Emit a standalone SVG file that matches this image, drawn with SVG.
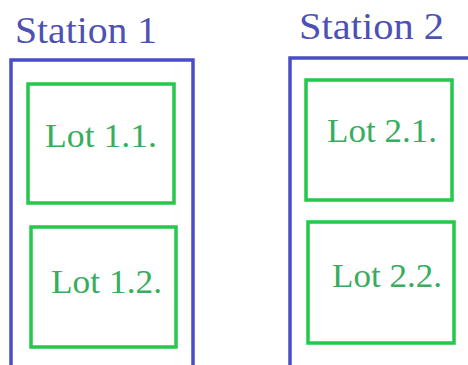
<svg xmlns="http://www.w3.org/2000/svg" width="468" height="365" viewBox="0 0 468 365">
<style>
.station{fill:none;stroke:#4a4ec6;stroke-width:3.5}
.lot{fill:none;stroke:#22c94a;stroke-width:3.5}
.st{font-family:"Liberation Serif","DejaVu Serif",serif;font-size:38px;fill:#4d50b5}
.lt{font-family:"Liberation Serif","DejaVu Serif",serif;font-size:33px;fill:#38ad5e}
</style>
<rect width="468" height="365" fill="#ffffff"/>
<g id="station1">
<text class="st" x="15" y="43" textLength="142" lengthAdjust="spacingAndGlyphs">Station 1</text>
<path class="station" d="M11,368 V60 H193 V368"/>
</g>
<g id="station2">
<text class="st" x="299" y="39" textLength="145" lengthAdjust="spacingAndGlyphs">Station 2</text>
<path class="station" d="M290,368 V58 H472"/>
</g>
<g id="lot11">
<rect class="lot" x="28" y="84" width="146" height="119"/>
<text class="lt" x="45" y="147" textLength="112" lengthAdjust="spacingAndGlyphs">Lot 1.1.</text>
</g>
<g id="lot12">
<rect class="lot" x="31" y="227" width="145" height="120"/>
<text class="lt" x="51" y="293" textLength="111" lengthAdjust="spacingAndGlyphs">Lot 1.2.</text>
</g>
<g id="lot21">
<rect class="lot" x="306" y="80" width="146" height="120"/>
<text class="lt" x="327" y="142" textLength="110" lengthAdjust="spacingAndGlyphs">Lot 2.1.</text>
</g>
<g id="lot22">
<rect class="lot" x="308" y="222" width="146" height="121"/>
<text class="lt" x="332" y="287" textLength="110" lengthAdjust="spacingAndGlyphs">Lot 2.2.</text>
</g>
<g id="connectors"></g>
</svg>
